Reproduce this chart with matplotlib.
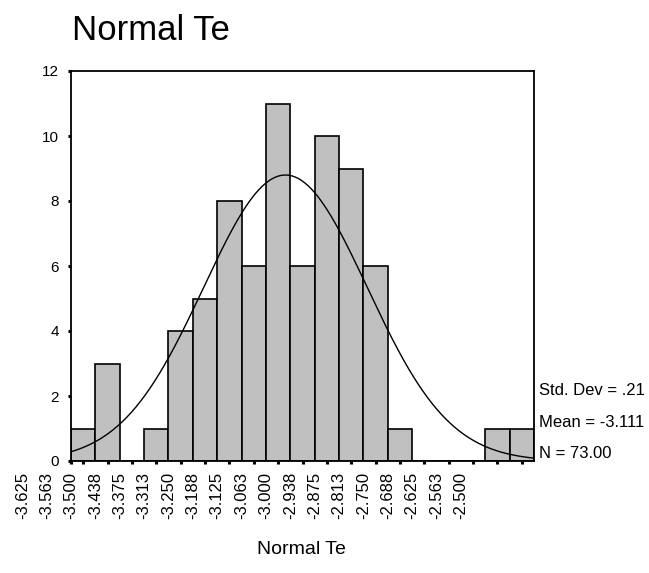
import matplotlib.pyplot as plt
import matplotlib.transforms as mtransforms
import numpy as np

plt.rcParams['font.family'] = ['Liberation Sans', 'DejaVu Sans']

# histogram (bin width .0625)
bin_start = -3.5
bin_width = 0.0625
counts = [1, 3, 0, 1, 4, 5, 8, 6, 11, 6, 10, 9, 6, 1, 0, 0, 0, 1, 1]
edge_labels = ['-3.625', '-3.563', '-3.500', '-3.438', '-3.375', '-3.313',
               '-3.250', '-3.188', '-3.125', '-3.063', '-3.000', '-2.938',
               '-2.875', '-2.813', '-2.750', '-2.688', '-2.625', '-2.563',
               '-2.500']
label_start = -3.625

# normal curve as drawn (centre in plotted axis units), stats box text
curve_centre = -2.95
curve_peak = 8.8
std_dev = 0.21
stats = ['Std. Dev = .21', 'Mean = -3.111', 'N = 73.00']

fig = plt.figure(figsize=(6.49, 5.73), dpi=100)
ax = fig.add_axes([71 / 649, 1 - 461 / 573, 463 / 649, 390 / 573])

edges = bin_start + bin_width * np.arange(len(counts) + 1)
ax.bar(edges[:-1], counts, width=bin_width, align='edge',
       color='#c0c0c0', edgecolor='black', linewidth=1.2, zorder=2)

xs = np.linspace(edges[0], edges[-1], 300)
ys = curve_peak * np.exp(-0.5 * ((xs - curve_centre) / std_dev) ** 2)
ax.plot(xs, ys, color='black', linewidth=1.0, zorder=3)

ax.set_xlim(edges[0], edges[-1])
ax.set_ylim(0, 12)
ax.set_yticks(range(0, 13, 2))
ax.tick_params(axis='y', direction='out', length=2.5, width=2.2,
               labelsize=11, pad=6)
centres = edges[:-1] + bin_width / 2
ax.set_xticks(np.concatenate([[edges[0]], centres]))
ax.set_xticklabels([])
ax.tick_params(axis='x', direction='out', length=2.5, width=2.2)
for sp in ax.spines.values():
    sp.set_linewidth(1.3)

# SPSS puts the labels on the bin edges, some of them left of the axis
trans = mtransforms.blended_transform_factory(ax.transData, ax.transAxes)
for i, lab in enumerate(edge_labels):
    ax.text(label_start + i * bin_width, -0.028, lab, transform=trans,
            rotation=90, ha='center', va='top', fontsize=12, clip_on=False)

for i, s in enumerate(stats):
    ax.text(1.01, 0.18 - i * 0.081, s, transform=ax.transAxes,
            ha='left', va='center', fontsize=12)

fig.text(72 / 649, 1 - 31 / 573, 'Normal Te', fontsize=25,
         ha='left', va='center')
fig.text(301 / 649, 1 - 549 / 573, 'Normal Te', fontsize=14,
         ha='center', va='center')

fig.savefig('out.png', dpi=100)
